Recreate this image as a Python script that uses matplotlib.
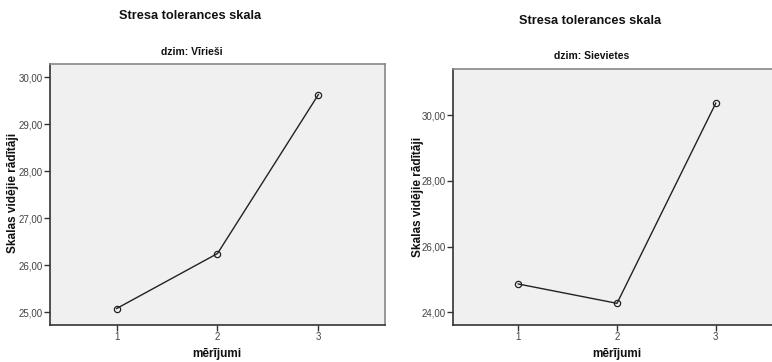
import matplotlib
matplotlib.use("Agg")
import matplotlib.pyplot as plt

plt.rcParams["font.family"] = ["Liberation Sans", "DejaVu Sans"]

# data
measurements = [1, 2, 3]
men_means = [25.08, 26.25, 29.63]
women_means = [24.86, 24.27, 30.37]

men_yticks = [25, 26, 27, 28, 29, 30]
women_yticks = [24, 26, 28, 30]

main_title = "Stresa tolerances skala"
men_subtitle = "dzim: Vīrieši"
women_subtitle = "dzim: Sievietes"
x_label = "mērījumi"
y_label = "Skalas vidējie rādītāji"

W, H = 772, 362


def px_axes(fig, left, top, right, bottom):
    return fig.add_axes([left / W, 1 - bottom / H, (right - left) / W, (bottom - top) / H])


def style_panel(ax, yticks, ylim):
    ax.set_facecolor("#f0f0f0")
    ax.set_xlim(0.34, 3.66)
    ax.set_ylim(*ylim)
    ax.set_xticks(measurements)
    ax.set_xticklabels([str(m) for m in measurements])
    ax.set_yticks(yticks)
    ax.set_yticklabels([f"{v:.2f}".replace(".", ",") for v in yticks])
    for side in ("left", "bottom"):
        ax.spines[side].set_color("#333333")
        ax.spines[side].set_linewidth(1.2)
    for side in ("top", "right"):
        ax.spines[side].set_color("#888888")
        ax.spines[side].set_linewidth(1.2)
    ax.tick_params(direction="out", length=4, width=1, color="#333333",
                   labelsize=7, labelcolor="#444444", pad=1)


def draw(ax, values):
    ax.plot(measurements, values, color="#222222", linewidth=1,
            marker="o", markersize=4.5, markerfacecolor="none",
            markeredgecolor="#222222", markeredgewidth=0.9)


fig = plt.figure(figsize=(W / 100, H / 100), dpi=100)

ax1 = px_axes(fig, 50, 64, 385, 325)
style_panel(ax1, men_yticks, (24.73, 30.28))
draw(ax1, men_means)

ax2 = px_axes(fig, 453, 69, 781, 325)
style_panel(ax2, women_yticks, (23.61, 31.41))
draw(ax2, women_means)

title_kw = dict(ha="center", va="center", fontweight="bold", color="#111111")
fig.text(190 / W, 1 - 16 / H, main_title, fontsize=9.2, **title_kw)
fig.text(192 / W, 1 - 52 / H, men_subtitle, fontsize=7.5, **title_kw)
fig.text(590 / W, 1 - 21 / H, main_title, fontsize=9.2, **title_kw)
fig.text(592 / W, 1 - 56 / H, women_subtitle, fontsize=7.5, **title_kw)

fig.text(217 / W, 1 - 354 / H, x_label, fontsize=8.5, **title_kw)
fig.text(617 / W, 1 - 354 / H, x_label, fontsize=8.5, **title_kw)
fig.text(13 / W, 1 - 193 / H, y_label, fontsize=8.5, rotation=90, **title_kw)
fig.text(418 / W, 1 - 197 / H, y_label, fontsize=8.5, rotation=90, **title_kw)

fig.savefig("out.png", dpi=100)
